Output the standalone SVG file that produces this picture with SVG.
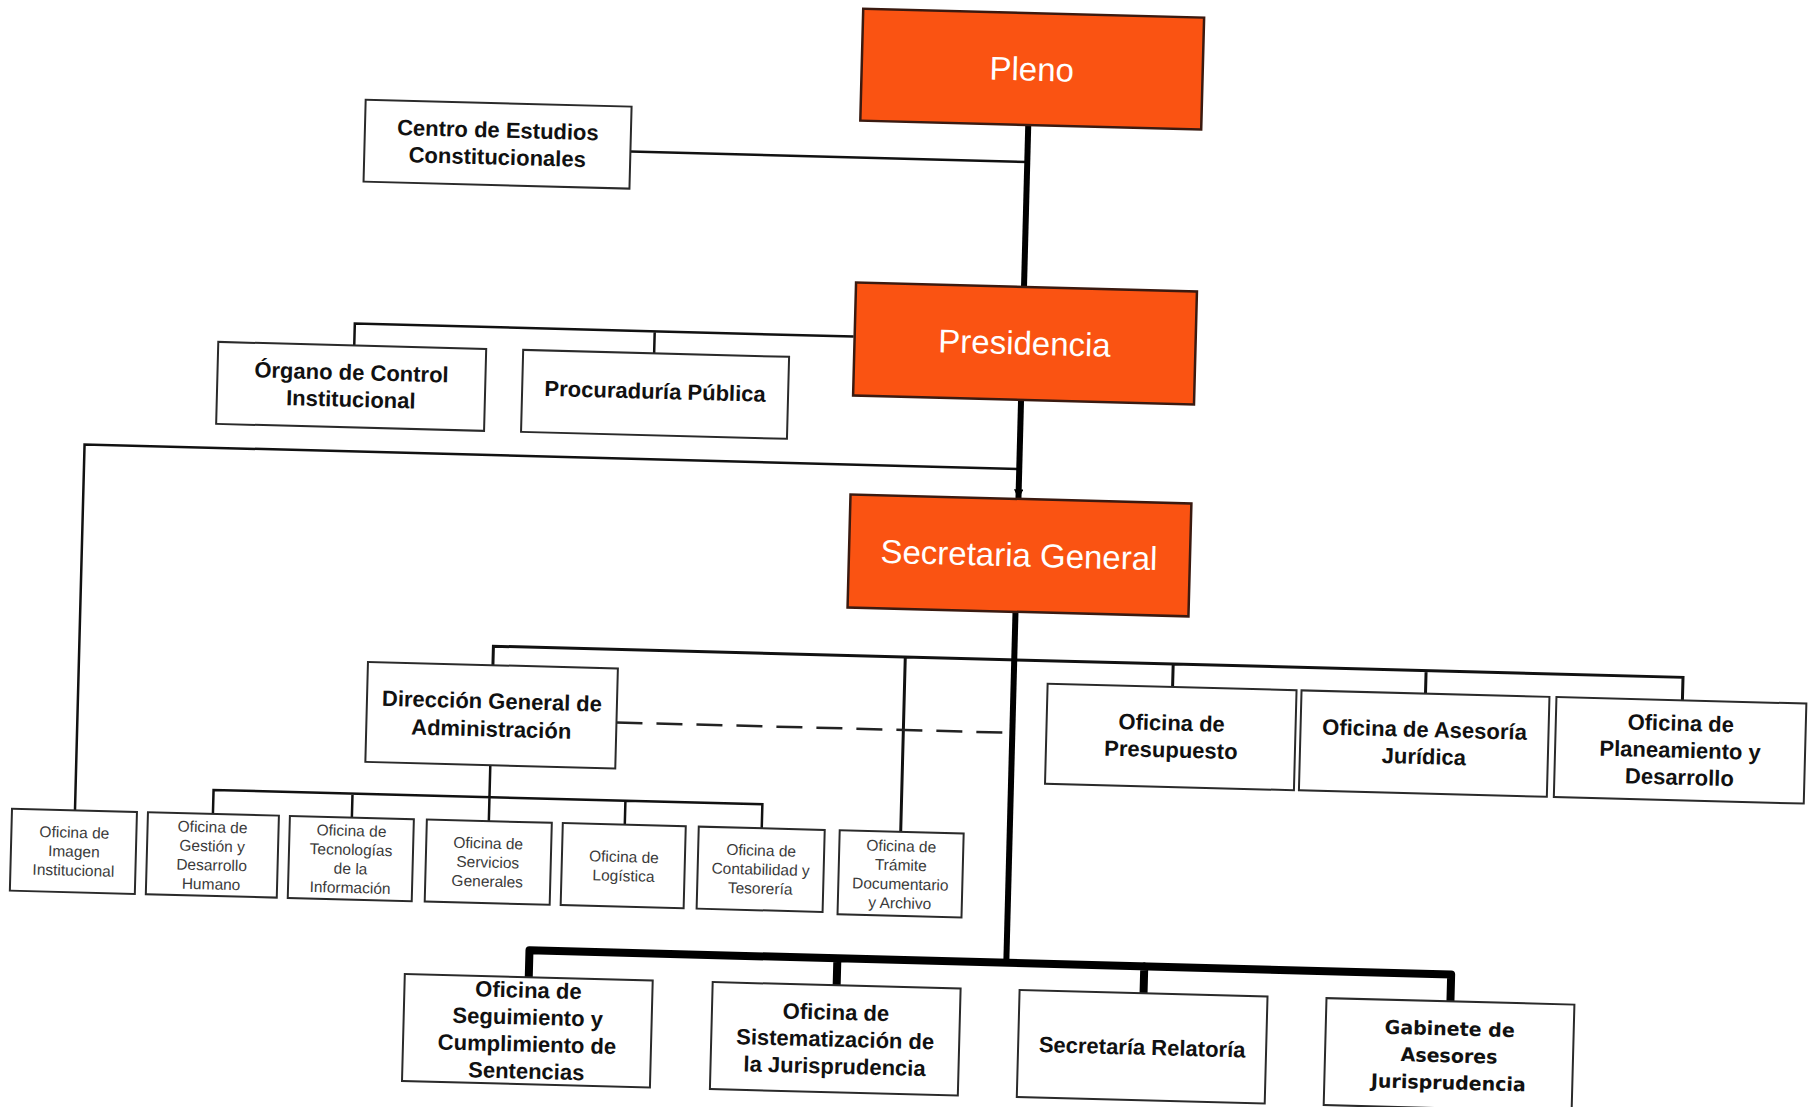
<svg xmlns="http://www.w3.org/2000/svg" width="1814" height="1107" viewBox="0 0 1814 1107">
<style>
.box{fill:#fff;stroke:#2a2a2a;stroke-width:2}
.org{fill:#FA5312;stroke:#3a1a10;stroke-width:2.5}
.t{font-family:"Liberation Sans",Arial,sans-serif;font-weight:bold;font-size:22px;fill:#111;text-anchor:middle;dominant-baseline:central}
.to{font-family:"Liberation Sans",Arial,sans-serif;font-size:33px;fill:#fff;text-anchor:middle;dominant-baseline:central}
.ts{font-family:"Liberation Sans",Arial,sans-serif;font-size:15.5px;fill:#3a3a3a;text-anchor:middle;dominant-baseline:central}
.tv{font-family:"DejaVu Sans",Verdana,sans-serif;font-weight:bold;font-size:19px;fill:#111;text-anchor:middle;dominant-baseline:central}
.thin{fill:none;stroke:#111;stroke-width:2.5}
.mid{fill:none;stroke:#111;stroke-width:3}
.thick{fill:none;stroke:#000;stroke-width:6;stroke-linejoin:round}
.heavy{fill:none;stroke:#000;stroke-width:8;stroke-linejoin:round;stroke-linecap:round}
.dash{fill:none;stroke:#222;stroke-width:2.5;stroke-dasharray:26 14}
</style>
<defs>
<marker id="arr" viewBox="0 0 10 10" refX="10" refY="5" markerWidth="1.6" markerHeight="1.6" orient="auto" markerUnits="strokeWidth">
<path d="M0 0 L10 5 L0 10 Z" fill="#000"/>
</marker>
</defs>
<rect width="1814" height="1107" fill="#fff"/>
<g transform="rotate(1.5 907 553)">
<g id="connectors">
<path class="thin" d="M620 159 H1017"/>
<path class="thin" d="M848 338 H349 V360 M649 338 V360"/>
<path class="thin" d="M1017 466 H82 V832"/>
<path class="mid" d="M496 676 V657 H1686 V680 M908 657 V832 M1176 657 V680 M1429 657 V680"/>
<path class="thin" d="M496 776 V832 M220 832 V808 H769 V832 M359 808 V832 M632 808 V832"/>
<path class="dash" d="M621 730 H1017"/>
<path class="thick" d="M1017 122 V284"/>
<path class="thick" d="M1017 397 V496" marker-end="url(#arr)"/>
<path class="thick" d="M1017 609 V960"/>
<path class="heavy" d="M540 987 V960 H1462 V987 M848 960 V987 M1155 960 V987"/>
</g>
<g id="pleno"><rect class="org" x="849" y="10" width="341" height="112"/><text class="to" x="1019" y="66">Pleno</text></g>
<g id="centro"><rect class="box" x="354" y="114" width="266" height="82"/><text class="t" x="487" y="141">Centro de Estudios</text><text class="t" x="487" y="168">Constitucionales</text></g>
<g id="presidencia"><rect class="org" x="849" y="284" width="341" height="113"/><text class="to" x="1019" y="340">Presidencia</text></g>
<g id="organo"><rect class="box" x="213" y="360" width="268" height="82"/><text class="t" x="347" y="387">Órgano de Control</text><text class="t" x="347" y="414">Institucional</text></g>
<g id="procuraduria"><rect class="box" x="518" y="360" width="266" height="82"/><text class="t" x="651" y="398">Procuraduría Pública</text></g>
<g id="secretaria-general"><rect class="org" x="849" y="496" width="341" height="113"/><text class="to" x="1019" y="552">Secretaria General</text></g>
<g id="dga"><rect class="box" x="371" y="676" width="250" height="100"/><text class="t" x="496" y="712">Dirección General de</text><text class="t" x="496" y="740">Administración</text></g>
<g id="presupuesto"><rect class="box" x="1051" y="680" width="249" height="100"/><text class="t" x="1176" y="716">Oficina de</text><text class="t" x="1176" y="743">Presupuesto</text></g>
<g id="asesoria"><rect class="box" x="1305" y="680" width="248" height="100"/><text class="t" x="1429" y="716">Oficina de Asesoría</text><text class="t" x="1429" y="743">Jurídica</text></g>
<g id="planeamiento"><rect class="box" x="1560" y="680" width="250" height="100"/><text class="t" x="1685" y="703">Oficina de</text><text class="t" x="1685" y="730">Planeamiento y</text><text class="t" x="1685" y="757">Desarrollo</text></g>
<g id="imagen"><rect class="box" x="19" y="832" width="125" height="82"/><text class="ts" x="82" y="854">Oficina de</text><text class="ts" x="82" y="873">Imagen</text><text class="ts" x="82" y="892">Institucional</text></g>
<g id="gestion"><rect class="box" x="155" y="832" width="131" height="82"/><text class="ts" x="220" y="845">Oficina de</text><text class="ts" x="220" y="864">Gestión y</text><text class="ts" x="220" y="883">Desarrollo</text><text class="ts" x="220" y="902">Humano</text></g>
<g id="tecnologias"><rect class="box" x="297" y="832" width="124" height="82"/><text class="ts" x="359" y="845">Oficina de</text><text class="ts" x="359" y="864">Tecnologías</text><text class="ts" x="359" y="883">de la</text><text class="ts" x="359" y="902">Información</text></g>
<g id="servicios"><rect class="box" x="434" y="832" width="125" height="82"/><text class="ts" x="496" y="854">Oficina de</text><text class="ts" x="496" y="873">Servicios</text><text class="ts" x="496" y="892">Generales</text></g>
<g id="logistica"><rect class="box" x="570" y="832" width="123" height="82"/><text class="ts" x="632" y="864">Oficina de</text><text class="ts" x="632" y="883">Logística</text></g>
<g id="contabilidad"><rect class="box" x="706" y="832" width="126" height="82"/><text class="ts" x="769" y="854">Oficina de</text><text class="ts" x="769" y="873">Contabilidad y</text><text class="ts" x="769" y="892">Tesorería</text></g>
<g id="tramite"><rect class="box" x="847" y="832" width="124" height="84"/><text class="ts" x="909" y="846">Oficina de</text><text class="ts" x="909" y="865">Trámite</text><text class="ts" x="909" y="884">Documentario</text><text class="ts" x="909" y="903">y Archivo</text></g>
<g id="seguimiento"><rect class="box" x="416" y="987" width="248" height="107"/><text class="t" x="540" y="1000">Oficina de</text><text class="t" x="540" y="1027">Seguimiento y</text><text class="t" x="540" y="1054">Cumplimiento de</text><text class="t" x="540" y="1081">Sentencias</text></g>
<g id="sistematizacion"><rect class="box" x="724" y="987" width="248" height="107"/><text class="t" x="848" y="1014">Oficina de</text><text class="t" x="848" y="1041">Sistematización de</text><text class="t" x="848" y="1068">la Jurisprudencia</text></g>
<g id="relatoria"><rect class="box" x="1031" y="987" width="248" height="107"/><text class="t" x="1155" y="1041">Secretaría Relatoría</text></g>
<g id="gabinete"><rect class="box" x="1338" y="987" width="248" height="107"/><text class="tv" x="1462" y="1014">Gabinete de</text><text class="tv" x="1462" y="1041">Asesores</text><text class="tv" x="1462" y="1068">Jurisprudencia</text></g>
</g>
</svg>
